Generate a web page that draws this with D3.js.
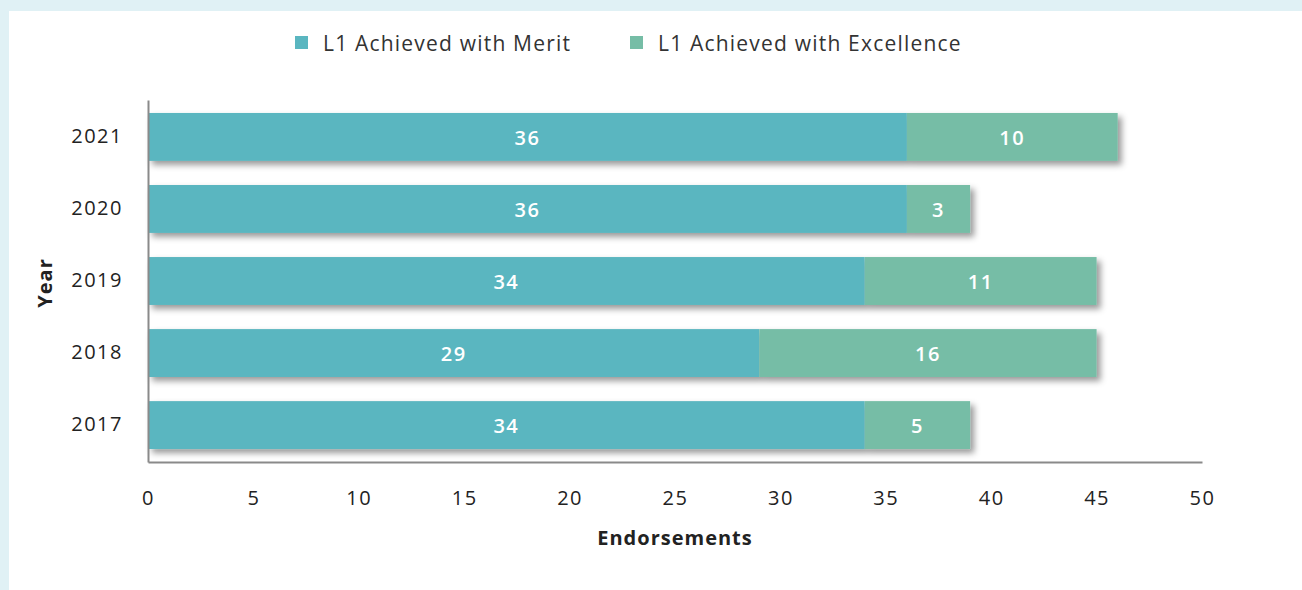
<!DOCTYPE html>
<html>
<head>
<meta charset="utf-8">
<script src="https://cdn.jsdelivr.net/npm/d3@7"></script>
<style>
  html, body { margin: 0; padding: 0; background: #e0f1f5; }
  svg { display: block; }
</style>
</head>
<body>
<script>
// Endorsement counts per year, split by grade
const years = ["2021", "2020", "2019", "2018", "2017"];
const meritValues = [36, 36, 34, 29, 34];
const excellenceValues = [10, 3, 11, 16, 5];
const seriesNames = ["L1 Achieved with Merit", "L1 Achieved with Excellence"];
const xTicks = [0, 5, 10, 15, 20, 25, 30, 35, 40, 45, 50];

const W = 1302, H = 590;
const colors = ["#5ab6c0", "#76bda6"];
const font = "'Open Sans', 'Noto Sans', sans-serif";

const svg = d3.select("body").append("svg").attr("width", W).attr("height", H);

// page background + white card
svg.append("rect").attr("x", 0).attr("y", 0).attr("width", W).attr("height", H).attr("fill", "#e0f1f5");
svg.append("rect").attr("x", 9).attr("y", 11).attr("width", W - 9).attr("height", H - 11).attr("fill", "#ffffff");

const defs = svg.append("defs");
const f = defs.append("filter").attr("id", "barShadow")
  .attr("x", "-5%").attr("y", "-30%").attr("width", "115%").attr("height", "180%");
f.append("feDropShadow").attr("dx", 4).attr("dy", 4).attr("stdDeviation", 3)
  .attr("flood-color", "#000").attr("flood-opacity", 0.4);

const x = d3.scaleLinear().domain([0, 50]).range([148, 1202]);
const y = d3.scaleBand().domain(years).range([100, 462]).paddingInner(0.335).paddingOuter(0.18);

const rows = years.map((yr, i) => ({ year: yr, values: [meritValues[i], excellenceValues[i]] }));
const stack = d3.stack().keys([0, 1]).value((d, k) => d.values[k]);
const stacked = stack(rows);

// bars, one shadowed group per year
const barGroups = svg.append("g").selectAll("g.row")
  .data(rows).join("g").attr("class", "row").attr("filter", "url(#barShadow)");
barGroups.each(function (row, i) {
  const g = d3.select(this);
  stacked.forEach((layer, k) => {
    const seg = layer[i];
    g.append("rect")
      .attr("x", x(seg[0]))
      .attr("y", y(row.year))
      .attr("width", x(seg[1]) - x(seg[0]))
      .attr("height", y.bandwidth())
      .attr("fill", colors[k]);
  });
});

// value labels
stacked.forEach((layer, k) => {
  svg.append("g").selectAll("text").data(layer).join("text")
    .attr("x", d => (x(d[0]) + x(d[1])) / 2)
    .attr("y", d => y(d.data.year) + y.bandwidth() / 2 + 1)
    .attr("dy", "0.36em")
    .attr("text-anchor", "middle")
    .attr("fill", "#ffffff")
    .style("font-family", font)
    .style("font-size", "20px")
    .style("letter-spacing", "1.5px")
    .style("font-weight", 600)
    .text(d => d.data.values[k]);
});

// axes
const xAxis = svg.append("g").attr("transform", "translate(0,462)")
  .call(d3.axisBottom(x).tickValues(xTicks).tickSize(0).tickPadding(29));
xAxis.select(".domain").attr("stroke", "#8a8a8a").attr("stroke-width", 2);
xAxis.selectAll("text").attr("fill", "#222").style("font-family", font)
  .style("font-size", "20px").style("letter-spacing", "1.5px");

const yAxis = svg.append("g").attr("transform", "translate(148,0)")
  .call(d3.axisLeft(y).tickSize(0).tickPadding(25));
yAxis.select(".domain").attr("stroke", "#8a8a8a").attr("stroke-width", 2);
yAxis.selectAll("text").attr("fill", "#222").style("font-family", font)
  .style("font-size", "20px").style("letter-spacing", "1.5px");

// axis titles
svg.append("text").attr("x", 675).attr("y", 545).attr("text-anchor", "middle")
  .attr("fill", "#222").style("font-family", font).style("font-size", "20px")
  .style("letter-spacing", "1px").style("font-weight", 700)
  .text("Endorsements");
svg.append("text").attr("transform", "translate(52,283) rotate(-90)").attr("text-anchor", "middle")
  .attr("fill", "#222").style("font-family", font).style("font-size", "20px")
  .style("letter-spacing", "1px").style("font-weight", 700)
  .text("Year");

// legend
const legendX = [295, 630];
const legend = svg.append("g").selectAll("g").data(seriesNames).join("g")
  .attr("transform", (d, i) => `translate(${legendX[i]},43)`);
legend.append("rect").attr("x", 0).attr("y", -7).attr("width", 13).attr("height", 13)
  .attr("fill", (d, i) => colors[i]);
legend.append("text").attr("x", 28).attr("dy", "0.36em").attr("fill", "#333")
  .style("font-family", font).style("font-size", "21px").style("letter-spacing", "1.2px")
  .text(d => d);
</script>
</body>
</html>
